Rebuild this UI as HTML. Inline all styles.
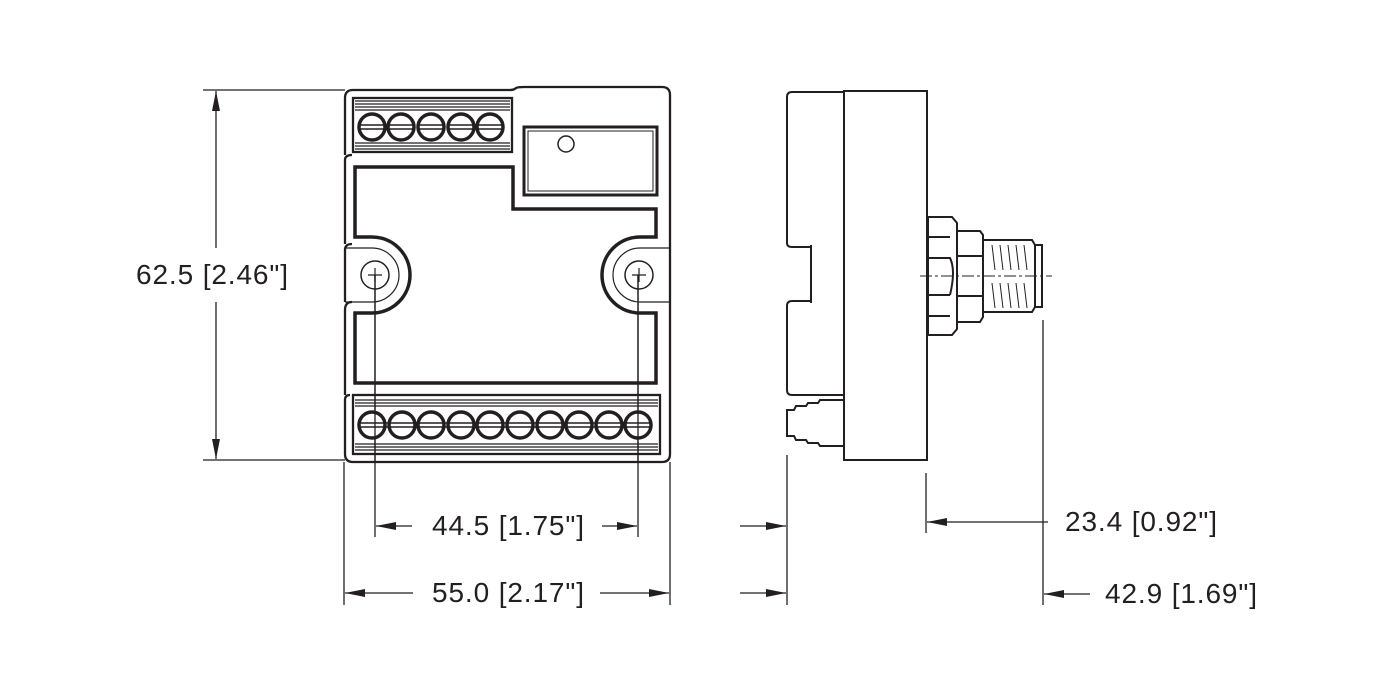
<!DOCTYPE html>
<html><head><meta charset="utf-8"><style>
html,body{margin:0;padding:0;background:#fff;}
svg{display:block}
text{font-family:"Liberation Sans",sans-serif;font-size:28px;fill:#231f20}
</style></head><body>
<svg width="1400" height="700" viewBox="0 0 1400 700" xmlns="http://www.w3.org/2000/svg">
<defs>
<marker id="a" viewBox="0 0 20 8" refX="20" refY="4" markerWidth="20" markerHeight="8" markerUnits="userSpaceOnUse" orient="auto"><path d="M0,0 L20,4 L0,8 Z" fill="#231f20"/></marker>
</defs>
<g stroke="#231f20" fill="none" stroke-width="1.3">
<line x1="203" y1="90" x2="345" y2="90"/>
<line x1="203" y1="460" x2="345" y2="460"/>
<line x1="216" y1="248" x2="216" y2="91" marker-end="url(#a)"/>
<line x1="216" y1="302" x2="216" y2="459" marker-end="url(#a)"/>
<line x1="375" y1="275" x2="375" y2="537"/>
<line x1="638" y1="275" x2="638" y2="537"/>
<line x1="344" y1="462" x2="344" y2="605"/>
<line x1="670" y1="462" x2="670" y2="605"/>
<line x1="412" y1="526" x2="376" y2="526" marker-end="url(#a)"/>
<line x1="602" y1="526" x2="637" y2="526" marker-end="url(#a)"/>
<line x1="413" y1="593" x2="345" y2="593" marker-end="url(#a)"/>
<line x1="600" y1="593" x2="669" y2="593" marker-end="url(#a)"/>
<line x1="787" y1="455" x2="787" y2="605"/>
<line x1="740" y1="526" x2="786" y2="526" marker-end="url(#a)"/>
<line x1="740" y1="593" x2="786" y2="593" marker-end="url(#a)"/>
<line x1="926" y1="473" x2="926" y2="533"/>
<line x1="1048" y1="522" x2="927" y2="522" marker-end="url(#a)"/>
<line x1="1043" y1="320" x2="1043" y2="605"/>
<line x1="1090" y1="594" x2="1044" y2="594" marker-end="url(#a)"/>
</g>
<text x="136" y="284" textLength="152">62.5 [2.46"]</text>
<text x="432" y="535" textLength="152">44.5 [1.75"]</text>
<text x="432" y="602" textLength="152">55.0 [2.17"]</text>
<text x="1065" y="531" textLength="152">23.4 [0.92"]</text>
<text x="1105" y="603" textLength="152">42.9 [1.69"]</text>

<g stroke="#231f20" fill="none" stroke-width="2.3">
<path d="M353,90 H510 Q514,90 516,88 Q518,87 524,87 H662 Q670,87 670,95 V454 Q670,462 662,462 H353 Q345,462 345,454 V400 Q345,395 350,395 M345,395 V310 Q345,302 352,302 M345,302 V250 Q345,244 352,244 M345,244 V160 Q345,155 352,155 M345,155 V98 Q345,90 353,90"/>
<rect x="353" y="98" width="159" height="54"/>
<path d="M355,167 H513 V209 H656 V237 H640 A38,38 0 0 0 640,313 H656 V383 H355 V313 H372 A38,38 0 0 0 372,237 H355 Z" stroke-width="3.5"/>
<path d="M345,248 H372 A27,27 0 0 1 372,302 H345" stroke-width="1.2"/>
<path d="M670,248 H640 A27,27 0 0 0 640,302 H670" stroke-width="1.2"/>
<rect x="524" y="127" width="133" height="68" stroke-width="3"/>
<rect x="528" y="131" width="125" height="60" stroke-width="1"/>
<circle cx="566" cy="144" r="8" stroke-width="1.5"/>
<circle cx="375" cy="275" r="14" stroke-width="1.5"/>
<circle cx="639" cy="275" r="14" stroke-width="1.5"/>
<path d="M368,275 h14 M375,268 v14 M632,275 h14 M639,268 v14" stroke-width="1.2"/>
<rect x="353" y="395" width="307" height="59"/>
</g>
<g stroke="#231f20" stroke-width="1.2">
<path d="M355,101 H510 M355,104 H510 M355,107 H510 M355,110 H510 M355,146 H510 M355,149 H510 M355,143 H510"/>
<path d="M355,400 H658 M355,403 H658 M355,406 H658 M355,444 H658 M355,447 H658 M355,450 H658"/>
</g>
<g stroke="#231f20" stroke-width="3.5" fill="#fff">
<circle cx="372" cy="127" r="13"/><circle cx="401" cy="127" r="13"/><circle cx="431" cy="127" r="13"/><circle cx="461" cy="127" r="13"/><circle cx="490" cy="127" r="13"/>
<circle cx="372" cy="425" r="13"/><circle cx="402" cy="425" r="13"/><circle cx="431" cy="425" r="13"/><circle cx="461" cy="425" r="13"/><circle cx="490" cy="425" r="13"/><circle cx="520" cy="425" r="13"/><circle cx="550" cy="425" r="13"/><circle cx="579" cy="425" r="13"/><circle cx="609" cy="425" r="13"/><circle cx="638" cy="425" r="13"/>
</g>
<g stroke="#231f20" stroke-width="1.5">
<path d="M359,125 H385 M359,129 H385 M388,125 H414 M388,129 H414 M418,125 H444 M418,129 H444 M448,125 H474 M448,129 H474 M477,125 H503 M477,129 H503"/>
<path d="M359,423 H651 M359,427 H651"/>
</g>
<line x1="375" y1="275" x2="375" y2="462" stroke="#231f20" stroke-width="1.3"/>
<line x1="638" y1="275" x2="638" y2="462" stroke="#231f20" stroke-width="1.3"/>

<g stroke="#231f20" fill="none" stroke-width="2">
<rect x="844" y="91" width="83" height="369"/>
<path d="M844,92 H792 Q787,92 787,97 V243 Q787,247 792,247 H811 M811,245 V303 M811,301 H792 Q787,301 787,306 V390 Q787,395 792,395 H844"/>
<path d="M844,400 H820 L818,403 H808 L806,406 H796 L794,410 H787 V436 H794 L796,440 H806 L808,443 H818 L820,446 H844"/>
<path d="M928,217 H952 L957,223 V329 L952,335 H928 Z"/>
<path d="M928,237 H950 M928,258 H950 Q956,270 950,295 M928,295 H950 M928,316 H950"/>
<path d="M957,231 H980 L983,235 V317 L980,322 H957"/>
<path d="M957,256 H982 M957,296 H982"/>
<path d="M983,240 H1032 L1035,245 V307 L1032,312 H983 Z"/>
<path d="M1035,245 H1042 V307 H1035"/>
</g>
<g stroke="#231f20" stroke-width="1">
<path d="M992,245 l3,25 M1000,245 l3,25 M1008,245 l3,25 M1016,245 l3,25 M1024,245 l3,25 M992,283 l3,25 M1000,283 l3,25 M1008,283 l3,25 M1016,283 l3,25 M1024,283 l3,25"/>
<line x1="920" y1="276" x2="1052" y2="276" stroke-dasharray="12,3,3,3"/>
</g>
</svg>
</body></html>
